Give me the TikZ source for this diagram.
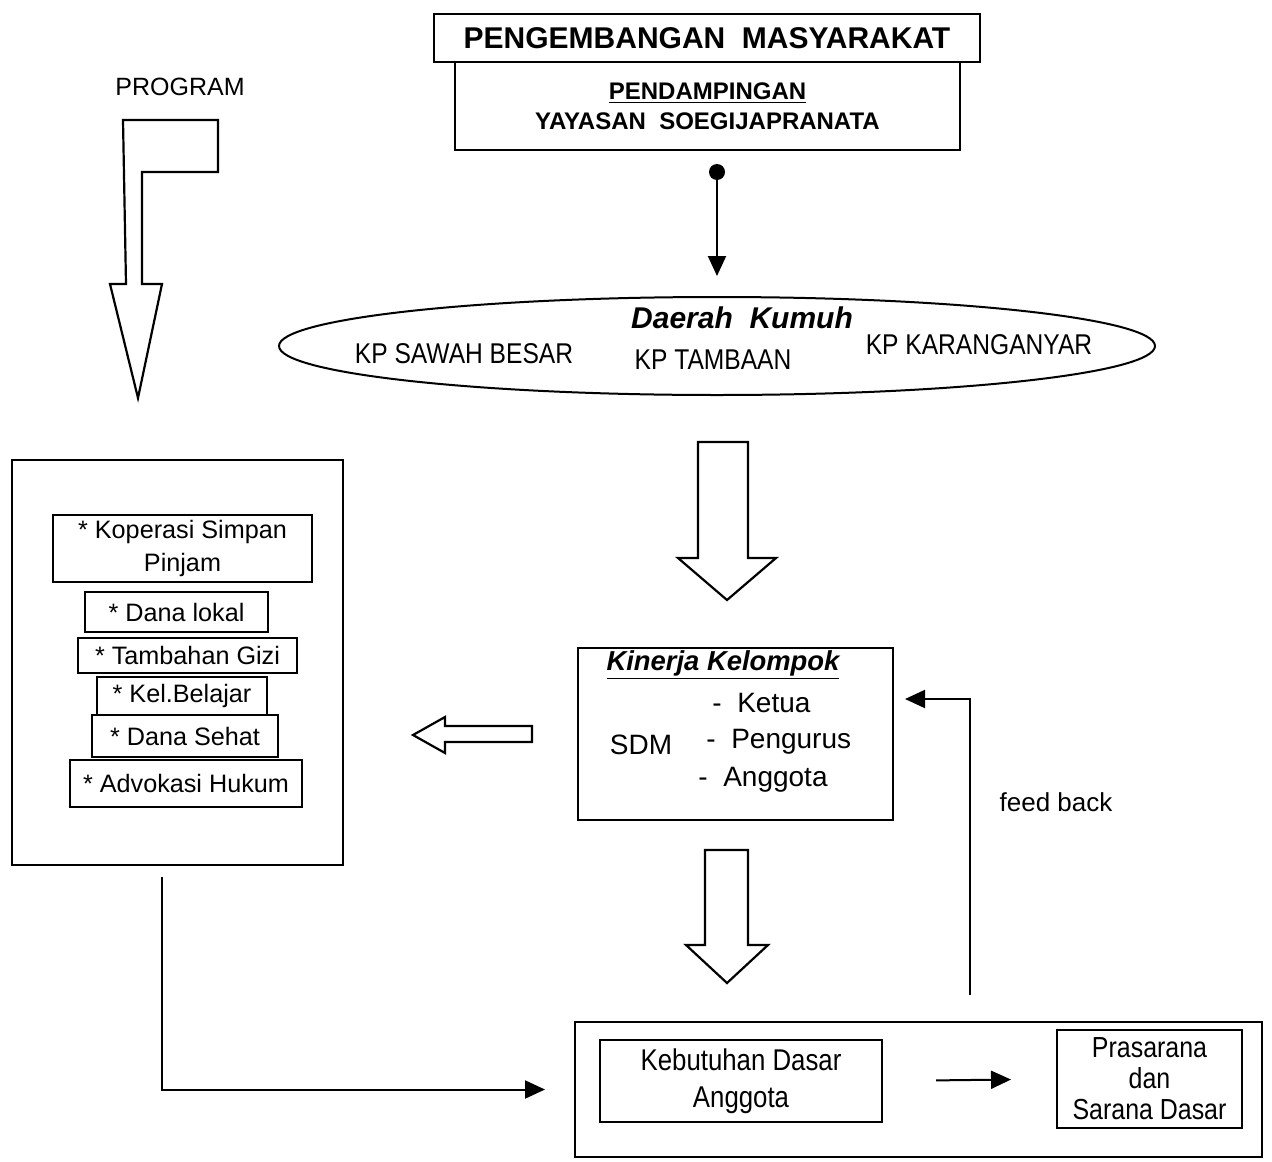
\documentclass[tikz,border=0pt]{standalone}
\usepackage{fontspec}
\setmainfont{Liberation Sans}
\newfontfamily\narrowfont[FakeStretch=0.86]{Liberation Sans}
\usepackage{tikz}
\usetikzlibrary{arrows.meta,shapes.geometric,positioning,calc}

\begin{document}
\begin{tikzpicture}[x=0.5pt,y=-0.5pt,
    box/.style={draw, line width=1pt, inner sep=0pt},
    conn/.style={line width=1pt, -{Triangle[length=10pt,width=9pt]}},
    hollow/.style={draw, line width=1.1pt, fill=white, line join=miter},
    txt/.style={inner sep=0pt, font=\fontsize{12.6}{16.5}\selectfont}]
    \useasboundingbox (0,0) rectangle (1272,1161);

    % Header boxes
    \node[box, minimum width=252.5pt, minimum height=44pt, align=center,
          font=\fontsize{12}{15}\selectfont\bfseries] (yys) at (707.5,106)
          {\underline{PENDAMPINGAN}\\YAYASAN~~SOEGIJAPRANATA};
    \node[box, fill=white, minimum width=273pt, minimum height=24pt,
          font=\fontsize{15}{17}\selectfont\bfseries] (pm) at (707,38)
          {PENGEMBANGAN~~MASYARAKAT};
    \node[circle, fill, inner sep=0pt, minimum size=8pt] (dot) at (717,172) {};

    % Daerah kumuh
    \node[draw, ellipse, line width=1pt, minimum width=438pt, minimum height=49pt] (kumuh) at (717,346) {};
    \node[txt, font=\fontsize{15}{17}\selectfont\bfseries\itshape] (dk) at (742,318) {Daerah~~Kumuh};
    \node[txt, font=\narrowfont\fontsize{14.3}{16}\selectfont] (kp1) at (464,354) {KP SAWAH BESAR};
    \node[txt, font=\narrowfont\fontsize{14.3}{16}\selectfont] (kp2) at (713,360) {KP TAMBAAN};
    \node[txt, font=\narrowfont\fontsize{14.3}{16}\selectfont] (kp3) at (979,345) {KP KARANGANYAR};
    \draw[conn, shorten >=10pt] (dot) -- (kumuh.north);

    % Program
    \node[txt, font=\fontsize{12.5}{14}\selectfont] (program) at (180,87) {PROGRAM};
    \draw[hollow] (123,120) -- (218,120) -- (218,172) -- (142,172) -- (142,284) -- (162,284)
        -- (138,398) -- (110,284) -- (126,284) -- cycle;

    \node[box, minimum width=165.5pt, minimum height=202.5pt] (prog) at (177.5,662.5) {};
    \node[box, txt, minimum width=129.5pt, minimum height=33.5pt, align=center] (ksp) at (182.5,548.5) {* Koperasi Simpan\\Pinjam};
    \node[box, txt, minimum width=91.5pt, minimum height=20pt] (dl) at (176.5,612) {* Dana lokal};
    \node[box, txt, minimum width=109.5pt, minimum height=17.5pt] (tg) at (187.5,655.5) {* Tambahan Gizi};
    \node[box, txt, minimum width=85pt, minimum height=19pt] (kb) at (182,696) {* Kel.Belajar};
    \node[box, txt, minimum width=93pt, minimum height=21pt] (ds) at (185,736) {* Dana Sehat};
    \node[box, txt, minimum width=116pt, minimum height=23.5pt] (ah) at (186,783.5) {* Advokasi Hukum};

    % Kinerja kelompok
    \draw[hollow] (698,442) -- (748,442) -- (748,558) -- (776,558) -- (727,600) -- (678,558) -- (698,558) -- cycle;
    \node[box, minimum width=157.5pt, minimum height=86pt] (kin) at (735.5,734) {};
    \node[txt, font=\fontsize{13.7}{16}\selectfont\bfseries\itshape] (kk) at (723,665) {\underline{Kinerja Kelompok}};
    \node[txt, anchor=west, font=\fontsize{14}{16}\selectfont] (ketua) at (712,703) {-~~Ketua};
    \node[txt, anchor=west, font=\fontsize{14}{16}\selectfont] (pengurus) at (706,742) {-~~Pengurus};
    \node[txt, anchor=west, font=\fontsize{14}{16}\selectfont] (anggota) at (698,780) {-~~Anggota};
    \node[txt, font=\fontsize{14}{16}\selectfont] (sdm) at (641,745) {SDM};
    \draw[hollow] (532,726) -- (532,742) -- (445,742) -- (445,753) -- (413,735) -- (445,717) -- (445,726) -- cycle;
    \draw[hollow] (705,850) -- (748,850) -- (748,945) -- (768,945) -- (727,983) -- (686,945) -- (705,945) -- cycle;

    % Kebutuhan dasar
    \node[box, minimum width=343.5pt, minimum height=67.5pt] (bottom) at (918.5,1089.5) {};
    \node[box, minimum width=141pt, minimum height=41pt, align=center,
          font=\narrowfont\fontsize{15}{18.5}\selectfont] (kda) at (741,1081) {Kebutuhan Dasar\\Anggota};
    \node[box, minimum width=92.5pt, minimum height=49pt, align=center,
          font=\narrowfont\fontsize{14.5}{15.5}\selectfont] (psd) at (1149.5,1079) {Prasarana\\dan\\Sarana Dasar};
    \draw[conn, shorten <=26.5pt, shorten >=22.5pt] (kda.east) -- (psd.west);

    % Feed back and program link
    \coordinate (fbstart) at (970,995);
    \coordinate (fbend) at (905,699);
    \draw[conn] (fbstart) |- (fbend);
    \node[txt, font=\fontsize{13}{15}\selectfont] (fb) at (1056,802) {feed back};
    \coordinate (lstart) at (162,877);
    \draw[conn] (lstart) |- ([xshift=-14.5pt]bottom.west);
\end{tikzpicture}
\end{document}
